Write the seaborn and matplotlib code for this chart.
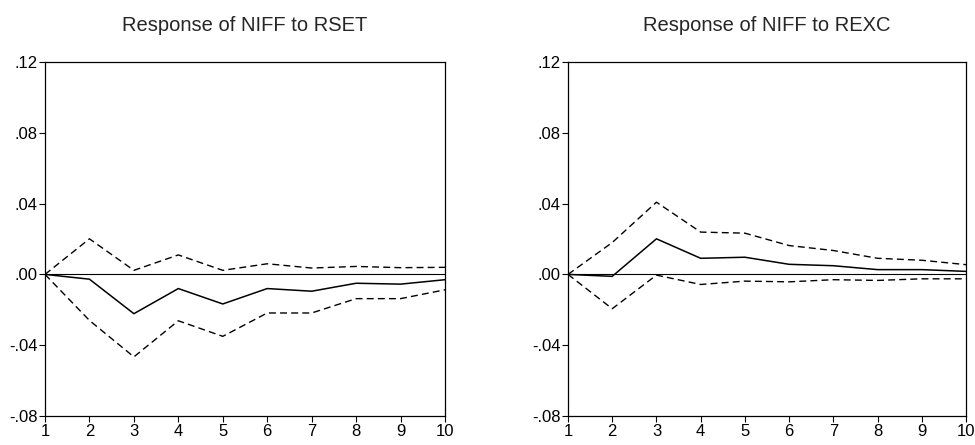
import numpy as np
import pandas as pd
import matplotlib
matplotlib.use("Agg")
import matplotlib.pyplot as plt
import seaborn as sns
from matplotlib.ticker import FuncFormatter

# periods
periods = [1, 2, 3, 4, 5, 6, 7, 8, 9, 10]

# Response of NIFF to RSET
rset_resp = [0.0, -0.0027, -0.0222, -0.0080, -0.0167, -0.0080, -0.0095, -0.0050, -0.0055, -0.0030]
rset_upper = [0.0, 0.0201, 0.0023, 0.0110, 0.0023, 0.0060, 0.0036, 0.0045, 0.0038, 0.0040]
rset_lower = [0.0, -0.0260, -0.0466, -0.0262, -0.0350, -0.0218, -0.0218, -0.0137, -0.0137, -0.0087]

# Response of NIFF to REXC
rexc_resp = [0.0, -0.0011, 0.0201, 0.0091, 0.0097, 0.0057, 0.0049, 0.0027, 0.0027, 0.0017]
rexc_upper = [0.0, 0.0180, 0.0408, 0.0239, 0.0233, 0.0163, 0.0135, 0.0091, 0.0080, 0.0055]
rexc_lower = [0.0, -0.0194, -0.0004, -0.0057, -0.0038, -0.0042, -0.0030, -0.0034, -0.0025, -0.0025]

yticks = [-0.08, -0.04, 0.00, 0.04, 0.08, 0.12]

sns.set_theme(style="white")
plt.rcParams['font.family'] = ['Liberation Sans', 'DejaVu Sans']


def fmt_tick(v, pos):
    s = f"{v:.2f}"
    return s.replace("0.", ".", 1)


def draw_panel(ax, title, resp, upper, lower):
    df = pd.DataFrame({"period": periods, "resp": resp, "upper": upper, "lower": lower})
    ax.axhline(0, color="black", lw=0.8)
    sns.lineplot(data=df, x="period", y="resp", ax=ax, color="black", lw=1.1)
    sns.lineplot(data=df, x="period", y="upper", ax=ax, color="black", lw=1.0, linestyle=(0, (5, 3)))
    sns.lineplot(data=df, x="period", y="lower", ax=ax, color="black", lw=1.0, linestyle=(0, (5, 3)))

    ax.set_xlim(1, 10)
    ax.set_ylim(-0.08, 0.12)
    ax.set_xticks(periods)
    ax.set_yticks(yticks)
    ax.yaxis.set_major_formatter(FuncFormatter(fmt_tick))
    ax.set_xlabel("")
    ax.set_ylabel("")
    ax.set_title(title, fontsize=14.5, pad=22)
    ax.tick_params(axis="both", direction="out", length=4.5, width=0.8,
                   labelsize=12, bottom=True, left=True, pad=1, colors="black")
    for sp in ax.spines.values():
        sp.set_color("black")
        sp.set_linewidth(0.9)


fig = plt.figure(figsize=(9.75, 4.45), dpi=100)
ax1 = fig.add_axes([45 / 975, 1 - 416 / 445, 400 / 975, 354 / 445])
ax2 = fig.add_axes([568 / 975, 1 - 416 / 445, 398 / 975, 354 / 445])

draw_panel(ax1, "Response of NIFF to RSET", rset_resp, rset_upper, rset_lower)
draw_panel(ax2, "Response of NIFF to REXC", rexc_resp, rexc_upper, rexc_lower)

fig.savefig("out.png", dpi=100)
